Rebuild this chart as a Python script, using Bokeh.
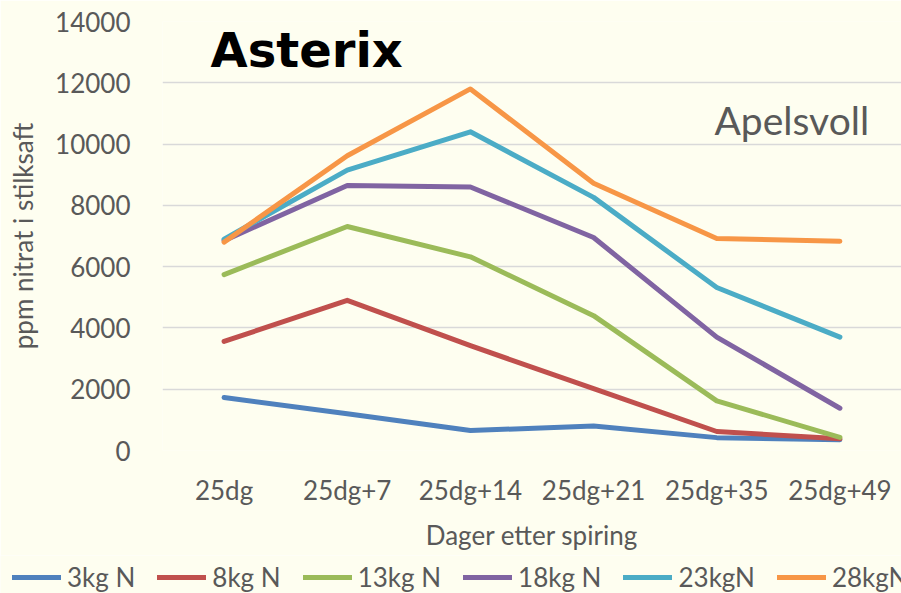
from bokeh.plotting import figure
from bokeh.models import FactorRange, Range1d, FixedTicker, Legend, LegendItem, Label
from bokeh.embed import file_html
from bokeh.resources import INLINE

categories = ["25dg", "25dg+7", "25dg+14", "25dg+21", "25dg+35", "25dg+49"]
series_names = ["3kg N", "8kg N", "13kg N", "18kg N", "23kgN", "28kgN"]
n3 = [1730, 1200, 650, 800, 420, 350]
n8 = [3560, 4900, 3420, 2020, 620, 380]
n13 = [5740, 7310, 6320, 4400, 1620, 430]
n18 = [6850, 8650, 8600, 6950, 3700, 1380]
n23 = [6900, 9150, 10400, 8260, 5320, 3700]
n28 = [6800, 9620, 11800, 8720, 6920, 6830]
y_ticks = [0, 2000, 4000, 6000, 8000, 10000, 12000, 14000]

series = [n3, n8, n13, n18, n23, n28]
colors = ["#4F81BD", "#C0504D", "#9BBB59", "#8064A2", "#4BACC6", "#F79646"]

BG = "#FEFEF0"
TXT = "#595959"
FONT = "Lato"

p = figure(width=901, height=555, output_backend="svg", toolbar_location=None,
           x_range=FactorRange(*categories, range_padding=0), y_range=Range1d(0, 14000),
           min_border_left=162, min_border_right=0, min_border_top=21, min_border_bottom=105)
p.background_fill_color = BG
p.border_fill_color = BG
p.outline_line_color = None

for name, vals, c in zip(series_names, series, colors):
    p.line(categories, vals, line_color=c, line_width=5, line_cap="round", line_join="round")

p.xgrid.grid_line_color = None
p.ygrid.grid_line_color = "#D9D9D9"
p.ygrid.grid_line_width = 1.5
p.yaxis.ticker = FixedTicker(ticks=y_ticks)

for ax in (p.xaxis[0], p.yaxis[0]):
    ax.axis_line_color = None
    ax.major_tick_line_color = None
    ax.minor_tick_line_color = None
    ax.major_tick_out = 0
    ax.major_tick_in = 0
    ax.major_label_text_font = FONT
    ax.major_label_text_font_size = "26px"
    ax.major_label_text_color = TXT
    ax.axis_label_text_font = FONT
    ax.axis_label_text_font_size = "26px"
    ax.axis_label_text_color = TXT
    ax.axis_label_text_font_style = "normal"

p.yaxis.axis_label = "ppm nitrat i stilksaft"
p.yaxis.major_label_standoff = 32
p.yaxis.axis_label_standoff = 13
p.xaxis.axis_label = "Dager etter spiring"
p.xaxis.major_label_standoff = 23
p.xaxis.axis_label_standoff = 10

p.add_layout(Label(x=48, y=401, x_units="screen", y_units="screen", text="Asterix",
                   text_font="DejaVu Sans", text_font_style="bold", text_font_size="48px",
                   text_color="#000000", text_baseline="alphabetic"))
p.add_layout(Label(x=552, y=331, x_units="screen", y_units="screen", text="Apelsvoll",
                   text_font=FONT, text_font_size="39px", text_color=TXT,
                   text_baseline="alphabetic"))

# legend strip below the chart (series drawn out of view, only their legend shows)
lg = figure(width=901, height=38, output_backend="svg", toolbar_location=None,
            x_range=FactorRange(*categories, range_padding=0), y_range=Range1d(-2, -1),
            x_axis_type=None, y_axis_type=None, min_border=0)
lg.background_fill_color = BG
lg.border_fill_color = BG
lg.outline_line_color = None
lg.grid.visible = False
items = []
for name, vals, c in zip(series_names, series, colors):
    r = lg.line(categories, vals, line_color=c, line_width=5, line_cap="round")
    items.append(LegendItem(label=name, renderers=[r]))
legend = Legend(items=items, orientation="horizontal", location=(12, 0),
                glyph_width=49, glyph_height=26, label_standoff=6, spacing=22,
                padding=0, margin=0, border_line_alpha=0, background_fill_alpha=0,
                label_text_font=FONT, label_text_font_size="26px", label_text_color=TXT)
lg.add_layout(legend)

open("out.html", "w").write(file_html([p, lg], INLINE))
